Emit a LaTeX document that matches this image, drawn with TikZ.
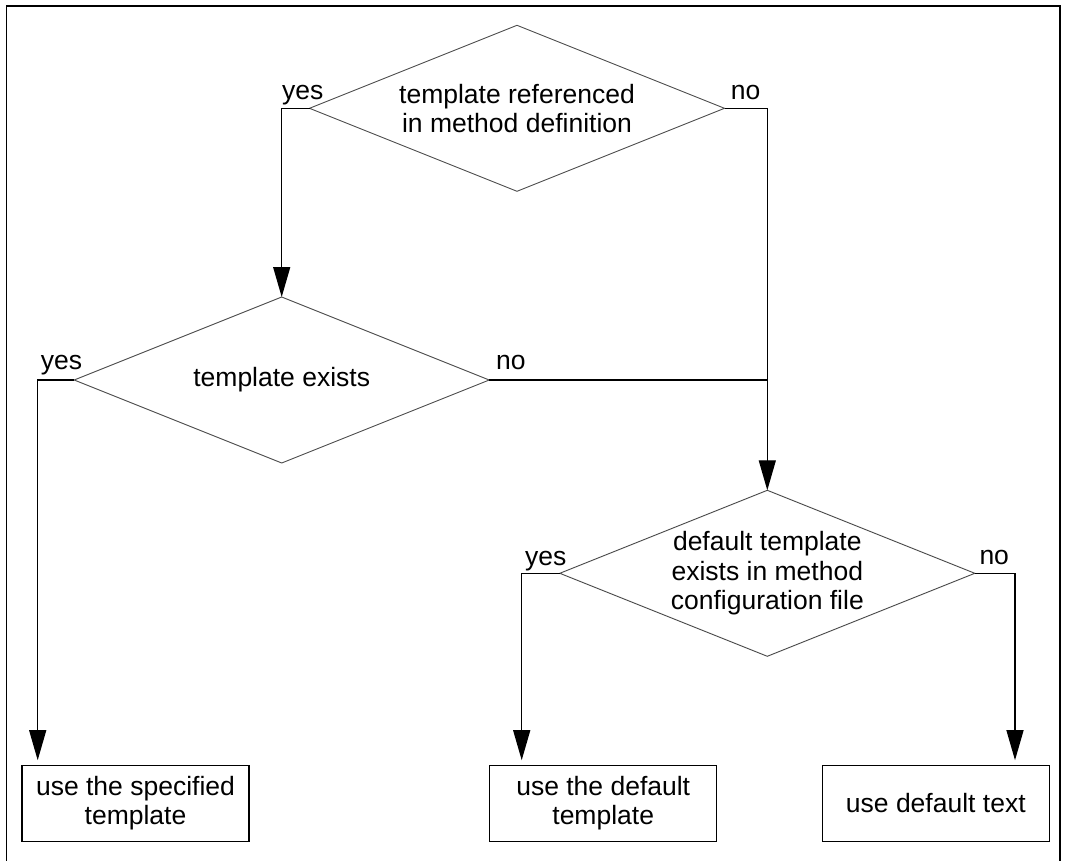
\documentclass[tikz,border=0pt]{standalone}
\usepackage{fontspec}
\setmainfont{Liberation Sans}
\usetikzlibrary{shapes.geometric,arrows.meta}
\tikzset{
  txt/.style={font=\fontsize{26.5}{29.5}\selectfont},
  dec/.style={txt, shape=diamond, aspect=2.5, draw=black!70, line width=0.9pt, minimum width=415pt, minimum height=166pt, inner sep=0pt, outer sep=0pt, align=center},
  act/.style={txt, draw, line width=1.3pt, minimum width=227pt, minimum height=76pt, inner sep=0pt, outer sep=0pt, align=center},
  lbl/.style={txt, anchor=base west, inner sep=0pt},
  conn/.style={line width=1.3pt},
  arr/.style={conn, -{Triangle[length=30pt,width=17pt]}},
}
\begin{document}
\begin{tikzpicture}[x=1pt,y=-1pt]
\useasboundingbox (0,0) rectangle (1067,861);
\draw[line width=1.8pt] (6.5,861) -- (6.5,6) -- (1060,6) -- (1060,861);

\node[dec] (d1) at (517,108.3) {template referenced\\in method definition};
\node[dec] (d2) at (281.7,380) {template exists};
\node[dec] (d3) at (767.3,573.3) {default template\\exists in method\\configuration file};

\node[act] (b1) at (135.5,803.2) {use the specified\\template};
\node[act] (b2) at (603.2,803.2) {use the default\\template};
\node[act] (b3) at (935.8,803.2) {use default text};

\coordinate (c1) at (37.7,380);
\coordinate (c2) at (521.7,573.3);
\coordinate (c3) at (1015,573.3);

\draw[arr] (d1.west) -| (d2.north);
\draw[arr] (d1.east) -| (d3.north);
\draw[conn] (d2.east) -- (d2.east -| d3.north);
\draw[arr, shorten >=5pt] (d2.west) -- (c1) -- (c1 |- b1.north);
\draw[arr, shorten >=5pt] (d3.west) -- (c2) -- (c2 |- b2.north);
\draw[arr, shorten >=5pt] (d3.east) -- (c3) -- (c3 |- b3.north);

\node[lbl] (l1y) at (282,100) {yes};
\node[lbl] (l1n) at (730.7,99.5) {no};
\node[lbl] (l2y) at (40.7,369) {yes};
\node[lbl] (l2n) at (496,369) {no};
\node[lbl] (l3y) at (525,565) {yes};
\node[lbl] (l3n) at (979.3,564.5) {no};
\end{tikzpicture}
\end{document}
